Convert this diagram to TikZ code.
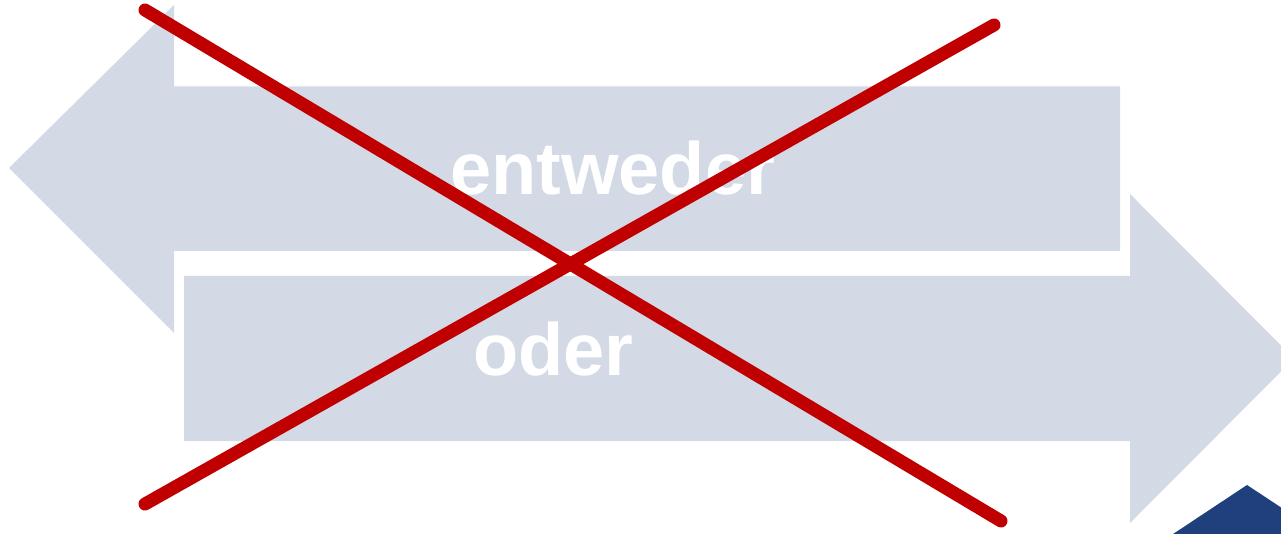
\documentclass[tikz,border=0pt]{standalone}
\usepackage{fontspec}
\setmainfont{Liberation Sans}
\definecolor{arrowfill}{RGB}{211,217,229}
\definecolor{xred}{RGB}{192,0,0}
\definecolor{darkblue}{RGB}{31,64,124}
\begin{document}
\begin{tikzpicture}[x=1pt,y=-1pt,
  arrowshape/.style={fill=arrowfill,draw=none},
  label/.style={text=white,font=\bfseries\fontsize{74}{80}\selectfont,inner sep=0pt,anchor=base},
  cross/.style={draw=xred,line width=13pt,line cap=round}]
\useasboundingbox (0,0) rectangle (1281,534);
% left arrow (entweder)
\fill[arrowshape] (9,168) -- (174,5) -- (174,86.5) -- (1120,86.5) -- (1120,251) -- (174,251) -- (174,333) -- cycle;
% right arrow (oder)
\fill[arrowshape] (184,276) -- (1130,276) -- (1130,194) -- (1294,358.5) -- (1130,523) -- (1130,441) -- (184,441) -- cycle;
% dark blue corner shape
\fill[darkblue] (1164,540) -- (1247,485) -- (1300,520) -- (1300,540) -- cycle;
% labels
\node[label] (entweder) at (612.5,195) {entweder};
\node[label] (oder) at (553.5,375) {oder};
% red cross
\coordinate (a1) at (145,10);
\coordinate (a2) at (1001,521);
\coordinate (b1) at (145,504);
\coordinate (b2) at (994,25);
\draw[cross] (a1) -- (a2);
\draw[cross] (b1) -- (b2);
\end{tikzpicture}
\end{document}
